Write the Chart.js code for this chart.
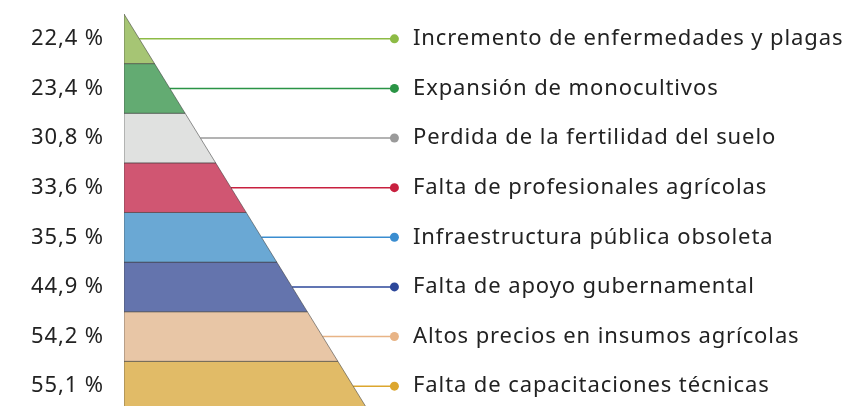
<!DOCTYPE html>
<html>
<head>
<meta charset="utf-8">
<script src="https://cdn.jsdelivr.net/npm/chart.js@4/dist/chart.umd.min.js"></script>
<style>
  body { margin: 0; background: #fff; }
</style>
</head>
<body>
<canvas id="pyramid" width="849" height="406"></canvas>
<script>
// data, top of the pyramid first
var categories = [
    "Incremento de enfermedades y plagas",
    "Expansión de monocultivos",
    "Perdida de la fertilidad del suelo",
    "Falta de profesionales agrícolas",
    "Infraestructura pública obsoleta",
    "Falta de apoyo gubernamental",
    "Altos precios en insumos agrícolas",
    "Falta de capacitaciones técnicas"
];
var values = [22.4, 23.4, 30.8, 33.6, 35.5, 44.9, 54.2, 55.1];
var valueLabels = values.map(function (v) {
    return v.toFixed(1).replace(".", ",") + " %";
});

// colours
var bandColors = ["#a6c574", "#63ab72", "#e0e1e0", "#d05672", "#6aa8d4", "#6474ad", "#e8c6a6", "#e1bb67"];
var dotColors = ["#8dbb45", "#2a9445", "#9a9a9a", "#c8203f", "#3a8dd0", "#2c479a", "#e8b486", "#dca62e"];

var fontFamily = "'Noto Sans', sans-serif";
var dotX = 8.85;

var datasets = [];

// one closed band per category, the slanted side runs along x = y
categories.forEach(function (c, i) {
    datasets.push({
        label: c,
        data: [
            { x: 0, y: i },
            { x: i, y: i },
            { x: i + 1, y: i + 1 },
            { x: 0, y: i + 1 },
            { x: 0, y: i }
        ],
        showLine: true,
        fill: "shape",
        backgroundColor: bandColors[i],
        borderColor: "rgba(60,60,60,0.55)",
        borderWidth: 1,
        pointRadius: 0,
        tension: 0
    });
});

// leader lines with a dot at the end
categories.forEach(function (c, i) {
    datasets.push({
        label: c + " (guía)",
        data: [
            { x: i + 0.5, y: i + 0.5 },
            { x: dotX, y: i + 0.5 }
        ],
        showLine: true,
        fill: false,
        borderColor: dotColors[i],
        borderWidth: 1.5,
        pointRadius: [0, 4.5],
        pointBackgroundColor: dotColors[i],
        pointBorderWidth: 0
    });
});

function bandTicks(scale) {
    scale.ticks = categories.map(function (c, i) {
        return { value: i + 0.5 };
    });
}

// the labels in the original are set a little wider
var letterSpacing = {
    id: "letterSpacing",
    beforeDraw: function (chart) {
        chart.ctx.letterSpacing = "0.9px";
    }
};

var ctx = document.getElementById("pyramid").getContext("2d");

var chart = new Chart(ctx, {
    type: "scatter",
    data: { datasets: datasets },
    plugins: [letterSpacing],
    options: {
        responsive: false,
        animation: false,
        events: [],
        layout: {
            autoPadding: false,
            padding: { left: 31, top: 14, right: 0, bottom: 0 }
        },
        plugins: {
            legend: { display: false },
            tooltip: { enabled: false }
        },
        scales: {
            x: {
                type: "linear",
                display: false,
                min: 0,
                max: 9
            },
            y: {
                type: "linear",
                position: "left",
                reverse: true,
                min: 0,
                max: 7.9,
                grid: { display: false, drawTicks: false },
                border: { display: false },
                afterBuildTicks: bandTicks,
                afterFit: function (scale) {
                    scale.width = 93;
                    scale.paddingTop = 0;
                    scale.paddingBottom = 0;
                },
                ticks: {
                    crossAlign: "far",
                    padding: 0,
                    color: "#222",
                    font: { family: fontFamily, size: 22 },
                    callback: function (value, index) {
                        return valueLabels[index];
                    }
                }
            },
            y2: {
                type: "linear",
                position: "right",
                reverse: true,
                min: 0,
                max: 7.9,
                grid: { display: false, drawTicks: false },
                border: { display: false },
                afterBuildTicks: bandTicks,
                afterFit: function (scale) {
                    scale.width = 450;
                    scale.paddingTop = 0;
                    scale.paddingBottom = 0;
                },
                ticks: {
                    padding: 14,
                    color: "#222",
                    font: { family: fontFamily, size: 22 },
                    callback: function (value, index) {
                        return categories[index];
                    }
                }
            }
        }
    }
});
</script>
</body>
</html>
